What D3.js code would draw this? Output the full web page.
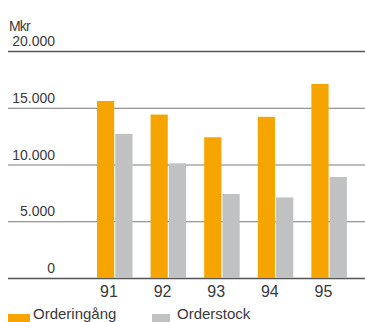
<!DOCTYPE html>
<html>
<head>
<meta charset="utf-8">
<script src="https://cdn.jsdelivr.net/npm/d3@7"></script>
<style>
  html, body { margin: 0; padding: 0; background: #fff; }
  svg { display: block; }
  text { font-family: "Liberation Sans", Arial, sans-serif; fill: #3a3a3a; }
</style>
</head>
<body>
<svg id="chart" width="365" height="322"></svg>
<script>
// Order intake and order backlog, MSEK
const years = ["91", "92", "93", "94", "95"];
const orderingang = [15600, 14400, 12400, 14200, 17100];
const orderstock = [12700, 10100, 7400, 7100, 8900];
const seriesNames = ["Orderingång", "Orderstock"];
const seriesColors = ["#f6a500", "#bfc1c2"];
const yTicks = [0, 5000, 10000, 15000, 20000];
const yTickLabels = ["0", "5.000", "10.000", "15.000", "20.000"];
const unitLabel = "Mkr";

const svg = d3.select("#chart");

const y = d3.scaleLinear().domain([0, 20000]).range([278, 51]);

const x = d3.scaleBand()
  .domain(years)
  .range([97, 97 + 53.6 * (5 - 0.338)])
  .paddingInner(0.338)
  .paddingOuter(0);

const xSub = d3.scaleBand()
  .domain(seriesNames)
  .range([0, x.bandwidth()])
  .paddingInner(0.06);

// Horizontal gridlines with their labels sitting above them
const grid = svg.append("g");
grid.selectAll("line")
  .data(yTicks)
  .join("line")
  .attr("x1", 8)
  .attr("x2", 365)
  .attr("y1", d => y(d) + 0.5)
  .attr("y2", d => y(d) + 0.5)
  .attr("stroke", d => (d === 0 || d === 20000) ? "#555" : "#7a7a7a")
  .attr("stroke-width", d => (d === 0 || d === 20000) ? 1.4 : 1);

grid.selectAll("text")
  .data(yTicks)
  .join("text")
  .attr("x", 55)
  .attr("y", d => y(d) - 5)
  .attr("text-anchor", "end")
  .attr("font-size", 14)
  .text((d, i) => yTickLabels[i]);

svg.append("text")
  .attr("x", 9)
  .attr("y", 31)
  .attr("font-size", 14)
  .attr("letter-spacing", -0.8)
  .text(unitLabel);

// Bars
const groups = svg.append("g")
  .selectAll("g")
  .data(years)
  .join("g")
  .attr("transform", d => `translate(${x(d)},0)`);

groups.selectAll("rect")
  .data((d, i) => [
    { key: seriesNames[0], value: orderingang[i], color: seriesColors[0] },
    { key: seriesNames[1], value: orderstock[i], color: seriesColors[1] }
  ])
  .join("rect")
  .attr("x", d => xSub(d.key))
  .attr("width", xSub.bandwidth())
  .attr("y", d => y(d.value))
  .attr("height", d => y(0) - y(d.value))
  .attr("fill", d => d.color);

// Year labels under the baseline
svg.append("g")
  .selectAll("text")
  .data(years)
  .join("text")
  .attr("x", d => x(d) + 12)
  .attr("y", 297)
  .attr("text-anchor", "middle")
  .attr("font-size", 16)
  .text(d => d);

// Legend
const legendX = [8, 152];
const legend = svg.append("g")
  .selectAll("g")
  .data(seriesNames)
  .join("g")
  .attr("transform", (d, i) => `translate(${legendX[i]},0)`);

legend.append("rect")
  .attr("x", 0)
  .attr("y", 314)
  .attr("width", (d, i) => i === 0 ? 22 : 18)
  .attr("height", 8)
  .attr("fill", (d, i) => seriesColors[i]);

legend.append("text")
  .attr("x", 25)
  .attr("y", 318.5)
  .attr("font-size", 15)
  .text(d => d);
</script>
</body>
</html>
